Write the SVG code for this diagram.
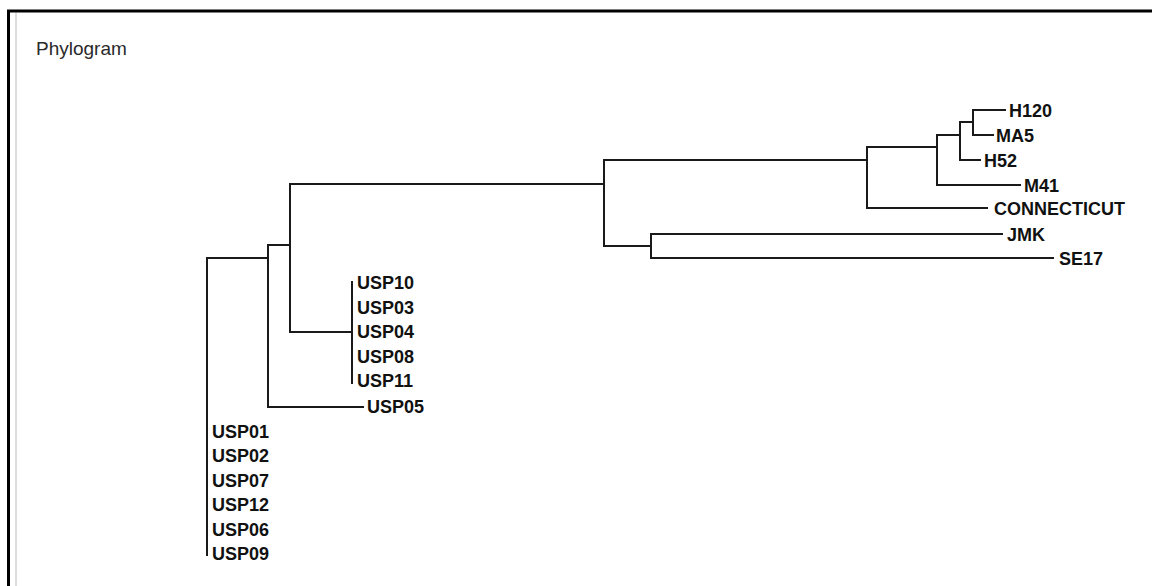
<svg xmlns="http://www.w3.org/2000/svg" width="1152" height="586" viewBox="0 0 1152 586">
<style>
.lbl{font-family:"Liberation Sans",Arial,sans-serif;font-size:18px;font-weight:bold;fill:#111}
.ttl{font-family:"Liberation Sans",Arial,sans-serif;font-size:19px;fill:#2a2a2a}
.br{stroke:#1a1a1a;stroke-width:2;fill:none;stroke-linecap:square}
</style>
<rect width="1152" height="586" fill="#fff"/>
<g id="frame">
<path d="M8.5 586 V11 H1152" stroke="#000" stroke-width="3" fill="none"/>
<line x1="16" y1="13" x2="16" y2="586" stroke="#ddd" stroke-width="2"/>
</g>
<text class="ttl" x="36" y="55">Phylogram</text>
<g id="connectors" class="br">
<path d="M207 258 H268"/>
<path d="M207 258 V555"/>
<path d="M268 245 V407 H363"/>
<path d="M268 245 H290"/>
<path d="M290 184 V332 H352"/>
<path d="M352 282 V383"/>
<path d="M290 184 H604"/>
<path d="M604 160 V246 H651"/>
<path d="M604 160 H867"/>
<path d="M651 234 V258"/>
<path d="M651 234 H1002"/>
<path d="M651 258 H1053"/>
<path d="M867 147 V208 H987"/>
<path d="M867 147 H937"/>
<path d="M937 135 V185 H1020"/>
<path d="M937 135 H960"/>
<path d="M960 122 V160 H980"/>
<path d="M960 122 H973"/>
<path d="M973 110 V135 H993"/>
<path d="M973 110 H1005"/>
</g>
<g id="n-H120"><text class="lbl" x="1009" y="117">H120</text></g>
<g id="n-MA5"><text class="lbl" x="996" y="142">MA5</text></g>
<g id="n-H52"><text class="lbl" x="984" y="167">H52</text></g>
<g id="n-M41"><text class="lbl" x="1024" y="192">M41</text></g>
<g id="n-CONNECTICUT"><text class="lbl" x="994" y="215">CONNECTICUT</text></g>
<g id="n-JMK"><text class="lbl" x="1007" y="241">JMK</text></g>
<g id="n-SE17"><text class="lbl" x="1059" y="265">SE17</text></g>
<g id="n-USP10"><text class="lbl" x="357" y="289">USP10</text></g>
<g id="n-USP03"><text class="lbl" x="357" y="313.5">USP03</text></g>
<g id="n-USP04"><text class="lbl" x="357" y="338">USP04</text></g>
<g id="n-USP08"><text class="lbl" x="357" y="362.5">USP08</text></g>
<g id="n-USP11"><text class="lbl" x="357" y="387">USP11</text></g>
<g id="n-USP05"><text class="lbl" x="367" y="413">USP05</text></g>
<g id="n-USP01"><text class="lbl" x="212" y="437.5">USP01</text></g>
<g id="n-USP02"><text class="lbl" x="212" y="462">USP02</text></g>
<g id="n-USP07"><text class="lbl" x="212" y="486.5">USP07</text></g>
<g id="n-USP12"><text class="lbl" x="212" y="511">USP12</text></g>
<g id="n-USP06"><text class="lbl" x="212" y="535.5">USP06</text></g>
<g id="n-USP09"><text class="lbl" x="212" y="560">USP09</text></g>
</svg>
